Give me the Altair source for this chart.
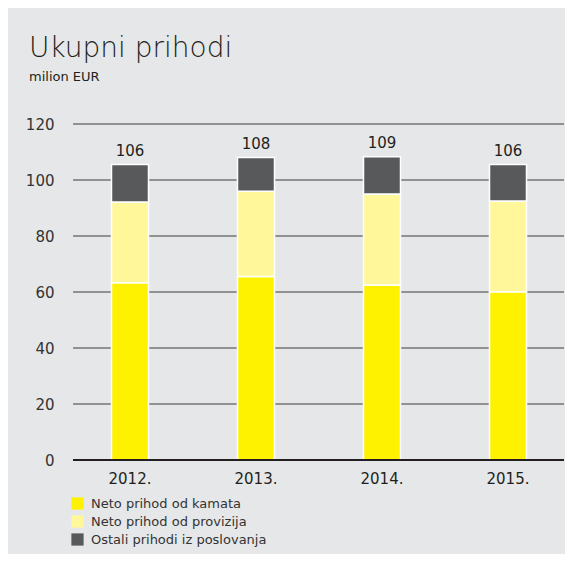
import altair as alt
import pandas as pd

years = ["2012.", "2013.", "2014.", "2015."]
series = ["Neto prihod od kamata", "Neto prihod od provizija", "Ostali prihodi iz poslovanja"]
kamata = [63.3, 65.5, 62.5, 60.1]
provizija = [28.8, 30.5, 32.5, 32.4]
ostali = [13.4, 12.0, 13.3, 13.0]
totals_label = ["106", "108", "109", "106"]
grid_values = [20, 40, 60, 80, 100, 120]
colors = ["#fff200", "#fff799", "#58595b"]
FONT = "DejaVu Sans"
TXT = "#231f20"

rows = []
for i, y in enumerate(years):
    for j, (s, v) in enumerate(zip(series, [kamata[i], provizija[i], ostali[i]])):
        rows.append({"year": y, "series": s, "value": v, "order": j})
df = pd.DataFrame(rows)

tot = pd.DataFrame({
    "year": years,
    "total": [a + b + c for a, b, c in zip(kamata, provizija, ostali)],
    "label": totals_label,
})
grid = pd.DataFrame({"v": grid_values})
one = pd.DataFrame({"k": [0]})

yscale = alt.Scale(domain=[0, 120], nice=False)
xscale = alt.Scale(paddingInner=0, paddingOuter=0, range=[0, 504])
xenc = alt.X("year:N", sort=years, scale=xscale,
             axis=alt.Axis(title=None, domain=False, ticks=False, labelAngle=0,
                           labelPadding=11, labelFontSize=15, labelColor=TXT,
                           labelFont=FONT, labelFontWeight=500))

gridlines = alt.Chart(grid).mark_rule(color="#3a3a3a", strokeWidth=1).encode(
    y=alt.Y("v:Q", scale=yscale, axis=alt.Axis(title=None, values=[0, 20, 40, 60, 80, 100, 120],
            domain=False, ticks=False, grid=False, labelPadding=13, labelFontSize=15,
            labelColor="#333333", labelFont=FONT, labelFontWeight=400)),
    x=alt.value(6), x2=alt.value(497),
)

bars = alt.Chart(df).mark_bar(size=37, stroke="white", strokeWidth=1.5).encode(
    x=xenc,
    y=alt.Y("value:Q", stack="zero", scale=yscale),
    color=alt.Color("series:N", sort=series,
                    scale=alt.Scale(domain=series, range=colors),
                    legend=alt.Legend(title=None, orient="none", legendX=4, legendY=373,
                                      symbolType="square", symbolSize=150,
                                      symbolStrokeWidth=0, symbolOpacity=1,
                                      labelFontSize=13, labelColor="#333333",
                                      labelFont=FONT, rowPadding=4, labelOffset=7,
                                      labelLimit=400)),
    order=alt.Order("order:Q"),
)

baseline = alt.Chart(one).mark_rule(color="#231f20", strokeWidth=2.2).encode(
    x=alt.value(6), x2=alt.value(497), y=alt.value(336)
)

labels = alt.Chart(tot).mark_text(baseline="bottom", dy=-6, fontSize=15, color=TXT, font=FONT).encode(
    x=alt.X("year:N", sort=years, scale=xscale),
    y=alt.Y("total:Q", scale=yscale),
    text="label:N",
)

title = alt.Chart(one).mark_text(align="left", baseline="alphabetic", fontSize=28,
                                 color=TXT, font=FONT, fontWeight=300).encode(
    x=alt.value(-38), y=alt.value(-67), text=alt.value("Ukupni prihodi")
)
subtitle = alt.Chart(one).mark_text(align="left", baseline="alphabetic", fontSize=13,
                                    color=TXT, font=FONT, fontWeight=400).encode(
    x=alt.value(-38), y=alt.value(-43), text=alt.value("milion EUR")
)

chart = alt.layer(gridlines, bars, baseline, labels, title, subtitle).properties(
    width=498, height=336,
    autosize=alt.AutoSizeParams(type="none"),
    padding={"left": 59, "top": 116, "right": 0, "bottom": 94},
    background="#e6e7e8",
).configure_view(stroke=None)

chart.save("out.html", embed_options={"renderer": "svg", "actions": False})
